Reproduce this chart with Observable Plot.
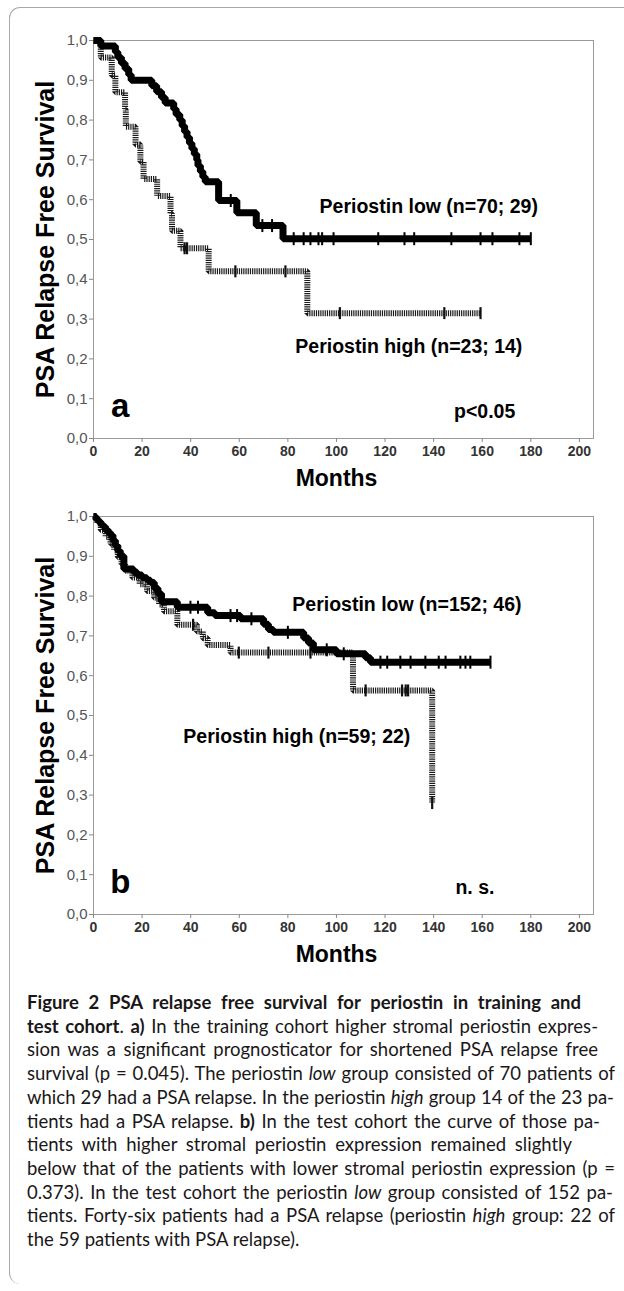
<!DOCTYPE html>
<html><head><meta charset="utf-8">
<script src="https://cdn.jsdelivr.net/npm/d3@7"></script>
<script src="https://cdn.jsdelivr.net/npm/@observablehq/plot@0.6"></script>
<style>
html,body{margin:0;padding:0;background:#fff;}
#wrap{position:relative;width:624px;height:1291px;overflow:hidden;background:#fff;}
#border{position:absolute;left:9px;top:7px;width:700px;height:1277px;border-top:1.5px solid #a8a8a8;border-left:1.5px solid #a8a8a8;border-radius:11px 0 0 11px;box-sizing:border-box;pointer-events:none;}
#charts svg{display:block;}
#caption{margin-top:21px;padding-left:27px;font-family:Lato,'Noto Sans',sans-serif;font-size:18.5px;line-height:23.7px;color:#1a1718;}
.ln{white-space:nowrap;}
</style></head><body>
<div id="wrap"><div id="charts"></div><div id="caption"></div><div id="border"></div></div>
<script>
// ---------- data ----------
const xTicks = [0, 20, 40, 60, 80, 100, 120, 140, 160, 180, 200];
const yTicks = [0, 0.1, 0.2, 0.3, 0.4, 0.5, 0.6, 0.7, 0.8, 0.9, 1.0];
const xTitle = "Months";
const yTitle = "PSA Relapse Free Survival";

// Panel a (training cohort)
const aLowT = [0,3,9,10,11.5,13,14.5,15.5,24,26,28,29.5,33,34,35.5,36.5,37.5,38.5,39.5,40.5,41.5,42.5,43,44,45,46,51.5,59,67,78,180];
const aLowS = [1,.986,.971,.957,.943,.929,.914,.900,.886,.871,.857,.843,.828,.814,.800,.785,.771,.757,.742,.728,.714,.700,.685,.671,.657,.645,.598,.567,.535,.502,.502];
const aLowCensor = [56.5,69.5,73.5,82.4,86.5,89.3,92.6,94.1,98.8,117.2,128,132,147.3,159.3,164.2,175.3,180];
const aHighT = [0,3,7.5,9,13,13.3,17.3,19.3,20.6,26.2,31.7,32.3,35.8,47.4,88,159.3];
const aHighS = [1,.957,.913,.870,.826,.783,.739,.696,.652,.609,.565,.522,.478,.420,.315,.315];
const aHighCensor = [37.5,38.5,58.4,79,101.4,144.4,159.3];
const aLabels = ["Periostin low (n=70; 29)", "Periostin high (n=23; 14)", "p<0.05"];
const aLabelX = [138, 129.8, 161];
const aLabelY = [0.583, 0.231, 0.068];
const aLetter = "a";

// Panel b (test cohort)
const bLowT = [0,1,2,3,4,5,6,7,8,9,10,11,12.5,16.5,18,20,22,23.5,25,26.5,28,34.5,47,50,60.5,70,72,74,86.5,88.5,90.5,100,112,114,163.4];
const bLowS = [1,.993,.987,.980,.974,.967,.960,.953,.940,.927,.914,.901,.868,.860,.853,.846,.840,.834,.820,.806,.786,.772,.758,.751,.743,.729,.716,.709,.695,.682,.665,.655,.645,.634,.634];
const bLowCensor = [39.9,43,56.4,59.1,65,80,96,103,118.1,120.9,126.3,130.5,136.6,142.1,144.9,151,153.1,155.1,163.4];
const bHighT = [0,1.5,3,5,7,8.5,10,11.5,13,16,19,22,25,27,29,34.5,42.6,45,47,56.4,106.8,139.4];
const bHighS = [1,.983,.966,.949,.932,.915,.898,.881,.864,.847,.830,.813,.796,.779,.762,.728,.711,.694,.677,.658,.563,.28];
const bHighCensor = [41,59.8,72,89.3,112,127,128.5,129.5,139.4];
const bLabels = ["Periostin low (n=152; 46)", "Periostin high (n=59; 22)", "n. s."];
const bLabelX = [129, 83.7, 157];
const bLabelY = [0.779, 0.447, 0.068];
const bLetter = "b";

// caption
const captionLines = [
  "<b>Figure 2 PSA relapse free survival for periostin in training and</b>",
  "<b>test cohort</b>. <b>a)</b> In the training cohort higher stromal periostin expres-",
  "sion was a significant prognosticator for shortened PSA relapse free",
  "survival (p = 0.045). The periostin <i>low</i> group consisted of 70 patients of",
  "which 29 had a PSA relapse. In the periostin <i>high</i> group 14 of the 23 pa-",
  "tients had a PSA relapse. <b>b)</b> In the test cohort the curve of those pa-",
  "tients with higher stromal periostin expression remained slightly",
  "below that of the patients with lower stromal periostin expression (p =",
  "0.373). In the test cohort the periostin <i>low</i> group consisted of 152 pa-",
  "tients. Forty-six patients had a PSA relapse (periostin <i>high</i> group: 22 of",
  "the 59 patients with PSA relapse)."
];
const captionRight = [581, 598, 598, 615, 614, 600, 572, 615, 613, 615, null];

// ---------- helpers ----------
const fmtY = d => d.toFixed(1).replace(".", ",");
const stepAt = (T, S, t) => { let v = S[0]; for (let i = 0; i < T.length; i++) if (T[i] <= t) v = S[i]; return v; };
const vbar = { draw(ctx, size) { const r = Math.sqrt(size / Math.PI); ctx.moveTo(0, -r); ctx.lineTo(0, r); } };

function panel(p) {
  const low = p.lowT.map((t, i) => ({t, s: p.lowS[i]}));
  const high = p.highT.map((t, i) => ({t, s: p.highS[i]}));
  const lowC = p.lowC.map(t => ({t, s: stepAt(p.lowT, p.lowS, t)}));
  const highC = p.highC.map(t => ({t, s: stepAt(p.highT, p.highS, t)}));
  const labels = p.labels.map((label, i) => ({label, x: p.labelX[i], y: p.labelY[i]}));
  return Plot.plot({
    width: 624, height: p.height,
    marginLeft: 93, marginRight: 31, marginTop: p.mt, marginBottom: p.mb,
    x: {domain: [0, 205.8], axis: null},
    y: {domain: [0, 1], axis: null},
    style: {fontFamily: "'Liberation Sans', Arial, sans-serif", background: "white", color: "black", overflow: "visible"},
    marks: [
      Plot.frame({stroke: "#9a9a9a"}),
      Plot.axisY({ticks: yTicks, tickSize: 4, tickFormat: () => "", color: "#888"}),
      Plot.axisY({ticks: yTicks, tickSize: 0, tickPadding: 6, tickFormat: fmtY, color: "#555", fontSize: 15}),
      Plot.axisX({ticks: xTicks, tickSize: 4, tickFormat: () => "", color: "#888"}),
      Plot.axisX({ticks: xTicks, tickSize: 0, tickPadding: 8, tickFormat: d => String(d), color: "#333", fontSize: 14, fontWeight: "bold"}),
      Plot.line(high, {x: "t", y: "s", curve: "step-after", stroke: "#1a1a1a", strokeWidth: 6, strokeDasharray: "1.2,1", strokeLinejoin: "miter", strokeLinecap: "butt"}),
      Plot.dot(highC, {x: "t", y: "s", symbol: vbar, r: 6, fill: "none", stroke: "#111", strokeWidth: 2.2}),
      Plot.line(low, {x: "t", y: "s", curve: "step-after", stroke: "black", strokeWidth: 7, strokeLinejoin: "miter", strokeLinecap: "butt"}),
      Plot.dot(lowC, {x: "t", y: "s", symbol: vbar, r: 6.5, fill: "none", stroke: "black", strokeWidth: 2}),
      Plot.text(labels, {x: "x", y: "y", text: "label", fontSize: 19.5, fontWeight: "bold", fill: "black"}),
      Plot.text([p.letter], {x: () => 11, y: () => 0.08, fontSize: 33, fontWeight: "bold", fill: "black"}),
      Plot.text([yTitle], {frameAnchor: "left", textAnchor: "middle", lineAnchor: "middle", dx: -48, rotate: -90, fontSize: 25, fontWeight: "bold", fill: "black"}),
      Plot.text([xTitle], {frameAnchor: "bottom", textAnchor: "middle", lineAnchor: "middle", dy: 40, dx: -7, fontSize: 23, fontWeight: "bold", fill: "black"})
    ]
  });
}

const charts = document.getElementById("charts");
charts.appendChild(panel({lowT: aLowT, lowS: aLowS, lowC: aLowCensor, highT: aHighT, highS: aHighS, highC: aHighCensor,
  labels: aLabels, labelX: aLabelX, labelY: aLabelY, letter: aLetter, height: 500, mt: 40, mb: 62}));
charts.appendChild(panel({lowT: bLowT, lowS: bLowS, lowC: bLowCensor, highT: bHighT, highS: bHighS, highC: bHighCensor,
  labels: bLabels, labelX: bLabelX, labelY: bLabelY, letter: bLetter, height: 470, mt: 16, mb: 56}));

// caption with per-line justification
const cap = document.getElementById("caption");
const spans = captionLines.map(html => {
  const div = document.createElement("div"); div.className = "ln";
  const sp = document.createElement("span"); sp.innerHTML = html;
  div.appendChild(sp); cap.appendChild(div); return sp;
});
function justify() {
  spans.forEach((sp, i) => {
    const target = captionRight[i];
    if (!target) return;
    sp.style.wordSpacing = "0px";
    const w = sp.getBoundingClientRect().width;
    const n = (sp.textContent.match(/ /g) || []).length;
    if (n > 0) sp.style.wordSpacing = ((target - 27 - w) / n) + "px";
  });
}
justify();
if (document.fonts && document.fonts.ready) document.fonts.ready.then(justify);
</script></body></html>
